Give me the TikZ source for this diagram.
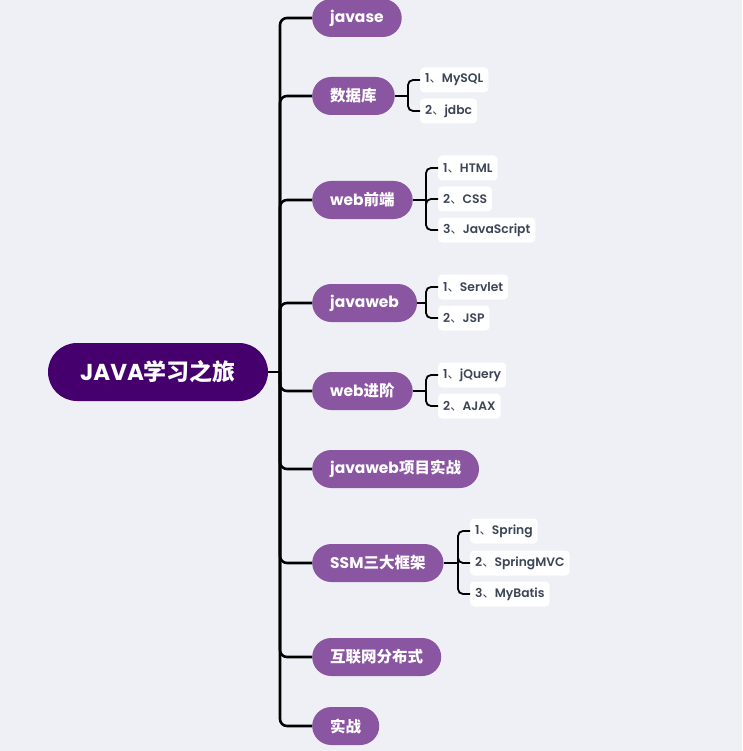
\documentclass[tikz,border=0pt]{standalone}
\usepackage{fontspec}
\setmainfont{Poppins}
\newfontfamily\cjkf{Noto Sans CJK SC}
\newfontfamily\popsb{Poppins SemiBold}
\newcommand\zh[1]{{\cjkf #1}}
\definecolor{bgc}{HTML}{EEF0F5}
\definecolor{rootc}{HTML}{45006E}
\definecolor{mainc}{HTML}{8A56A1}
\definecolor{leaftx}{HTML}{3B4556}
\begin{document}
\begin{tikzpicture}[x=1pt,y=-1pt,
 rootbox/.style={fill=rootc, text=white, font=\fontsize{23}{27}\selectfont\bfseries, rounded corners=29pt, minimum height=58pt, inner xsep=32pt, anchor=center},
 mainbox/.style={fill=mainc, text=white, font=\fontsize{15.5}{18}\selectfont\bfseries, rounded corners=19pt, minimum height=38pt, inner xsep=18pt, anchor=west},
 leafbox/.style={fill=white, text=leaftx, font=\fontsize{12.3}{14}\selectfont\popsb, rounded corners=4pt, minimum height=25pt, inner xsep=5pt, anchor=west},
 trunk/.style={line width=2.6pt, rounded corners=7pt},
 twig/.style={line width=1.8pt, rounded corners=5pt}]
\fill[bgc] (0,0) rectangle (742,751);
\useasboundingbox (0,0) rectangle (742,751);

\node[rootbox] (root) at (158,372) {JAVA\zh{学习之旅}};

\node[mainbox] (m1) at (312,18) {javase};
\node[mainbox] (m2) at (312,96) {\zh{数据库}};
\node[mainbox] (m3) at (312,200) {web\zh{前端}};
\node[mainbox] (m4) at (312,303) {javaweb};
\node[mainbox] (m5) at (312,391) {web\zh{进阶}};
\node[mainbox] (m6) at (312,469) {javaweb\zh{项目实战}};
\node[mainbox] (m7) at (312,563) {SSM\zh{三大框架}};
\node[mainbox] (m8) at (312,657) {\zh{互联网分布式}};
\node[mainbox] (m9) at (312,726) {\zh{实战}};

\coordinate (tj) at (280,372);
\draw[trunk] (root.east) -- (tj);
\foreach \m in {m1,m2,m3,m4,m5,m6,m7,m8,m9}
  \draw[trunk] (tj) |- (\m.west);

% leaves
\node[leafbox] (l21) at (420,80) {1\zh{、}MySQL};
\node[leafbox] (l22) at (420,111) {2\zh{、}jdbc};
\node[leafbox] (l31) at (438,168) {1\zh{、}HTML};
\node[leafbox] (l32) at (438,199) {2\zh{、}CSS};
\node[leafbox] (l33) at (438,230) {3\zh{、}JavaScript};
\node[leafbox] (l41) at (438,287) {1\zh{、}Servlet};
\node[leafbox] (l42) at (438,318) {2\zh{、}JSP};
\node[leafbox] (l51) at (438,375) {1\zh{、}jQuery};
\node[leafbox] (l52) at (438,406) {2\zh{、}AJAX};
\node[leafbox] (l71) at (470,531) {1\zh{、}Spring};
\node[leafbox] (l72) at (470,563) {2\zh{、}SpringMVC};
\node[leafbox] (l73) at (470,594) {3\zh{、}MyBatis};

\coordinate (b2) at (408,96);
\coordinate (b3) at (426,200);
\coordinate (b4) at (426,303);
\coordinate (b5) at (426,391);
\coordinate (b7) at (458,563);

\draw[twig] (m2.east) -- (b2);
\foreach \l in {l21,l22} \draw[twig] (b2) |- (\l.west);
\draw[twig] (m3.east) -- (b3);
\foreach \l in {l31,l32,l33} \draw[twig] (b3) |- (\l.west);
\draw[twig] (m4.east) -- (b4);
\foreach \l in {l41,l42} \draw[twig] (b4) |- (\l.west);
\draw[twig] (m5.east) -- (b5);
\foreach \l in {l51,l52} \draw[twig] (b5) |- (\l.west);
\draw[twig] (m7.east) -- (b7);
\foreach \l in {l71,l72,l73} \draw[twig] (b7) |- (\l.west);
\end{tikzpicture}
\end{document}
